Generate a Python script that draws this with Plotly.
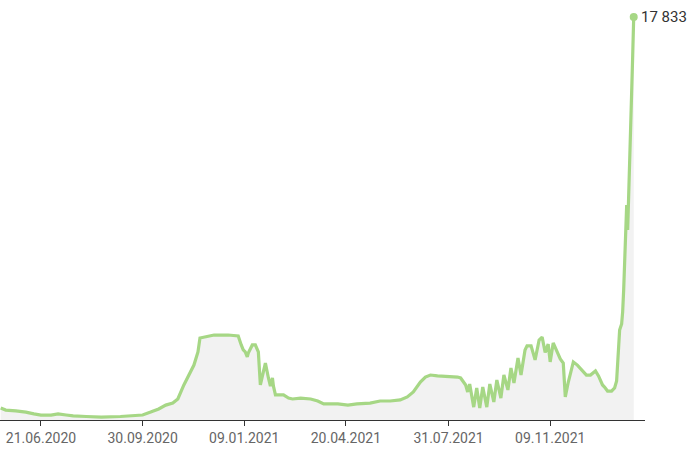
import plotly.graph_objects as go

dates = [
    "2020-05-12", "2020-05-17", "2020-05-27", "2020-06-06", "2020-06-14", "2020-06-21",
    "2020-07-01", "2020-07-08", "2020-07-16", "2020-07-23", "2020-08-05", "2020-08-20",
    "2020-09-08", "2020-09-23", "2020-09-30", "2020-10-08", "2020-10-16", "2020-10-23",
    "2020-10-30", "2020-11-04", "2020-11-10", "2020-11-20", "2020-11-24", "2020-11-26",
    "2020-11-30", "2020-12-10", "2020-12-24", "2021-01-03", "2021-01-06", "2021-01-08",
    "2021-01-10", "2021-01-12", "2021-01-13", "2021-01-17", "2021-01-20", "2021-01-23",
    "2021-01-25", "2021-01-28", "2021-01-30", "2021-02-02", "2021-02-04", "2021-02-06",
    "2021-02-07", "2021-02-09", "2021-02-17", "2021-02-22", "2021-02-26", "2021-03-06",
    "2021-03-16", "2021-03-23", "2021-03-29", "2021-04-12", "2021-04-22", "2021-05-01",
    "2021-05-14", "2021-05-24", "2021-06-03", "2021-06-13", "2021-06-20", "2021-06-26",
    "2021-07-03", "2021-07-08", "2021-07-13", "2021-07-20", "2021-08-02", "2021-08-09",
    "2021-08-12", "2021-08-15", "2021-08-17", "2021-08-19", "2021-08-21", "2021-08-25",
    "2021-08-28", "2021-08-31", "2021-09-03", "2021-09-07", "2021-09-10", "2021-09-14",
    "2021-09-17", "2021-09-21", "2021-09-24", "2021-09-28", "2021-10-01", "2021-10-04",
    "2021-10-08", "2021-10-11", "2021-10-15", "2021-10-17", "2021-10-21", "2021-10-25",
    "2021-10-29", "2021-11-01", "2021-11-04", "2021-11-07", "2021-11-09", "2021-11-12",
    "2021-11-16", "2021-11-19", "2021-11-22", "2021-11-24", "2021-11-27", "2021-12-02",
    "2021-12-06", "2021-12-11", "2021-12-15", "2021-12-19", "2021-12-24", "2021-12-27",
    "2021-12-31", "2022-01-02", "2022-01-05", "2022-01-09", "2022-01-12", "2022-01-14",
    "2022-01-15", "2022-01-16", "2022-01-17", "2022-01-19", "2022-01-20", "2022-01-21",
    "2022-01-22", "2022-01-23", "2022-01-24", "2022-01-25", "2022-01-26", "2022-01-27",
    "2022-01-28", "2022-01-29", "2022-01-30", "2022-01-31",
]

values = [
    530, 440, 400, 350, 270, 220,
    220, 270, 220, 180, 155, 130,
    155, 180, 220, 350, 490, 660,
    750, 930, 1550, 2430, 3010, 3630,
    3670, 3760, 3760, 3720, 3320, 3100,
    3010, 2790, 2960, 3320, 3320, 3010,
    1550, 2120, 2520, 1860, 1500, 1860,
    1500, 1110, 1110, 970, 930, 970,
    930, 840, 710, 710, 660, 710,
    750, 840, 840, 890, 1020, 1240,
    1680, 1900, 1990, 1950, 1930, 1900,
    1860, 1680, 1550, 1240, 1590, 570,
    1420, 530, 1460, 570, 1590, 800,
    1770, 970, 1990, 1330, 2300, 1640,
    2740, 1990, 3100, 3280, 3280, 2660,
    3540, 3670, 2990, 3360, 2570, 3410,
    2990, 2700, 2520, 1020, 1680, 2570,
    2430, 2170, 1990, 1990, 2170, 1950,
    1550, 1460, 1280, 1280, 1420, 1730,
    2520, 3320, 3980, 4250, 4780, 5750,
    6990, 8190, 9510, 8410, 9740, 11500,
    13050, 14600, 16150, 17833,
]

tick_dates = ["2020-06-21", "2020-09-30", "2021-01-09", "2021-04-20", "2021-07-31", "2021-11-09"]
tick_labels = ["21.06.2020", "30.09.2020", "09.01.2021", "20.04.2021", "31.07.2021", "09.11.2021"]

line_color = "#a6d785"

fig = go.Figure()
fig.add_trace(go.Scatter(
    x=dates, y=values, mode="lines",
    line=dict(color=line_color, width=3.2),
    fill="tozeroy", fillcolor="#f2f2f2",
    hoverinfo="skip",
))
fig.add_trace(go.Scatter(
    x=[dates[-1]], y=[values[-1]], mode="markers",
    marker=dict(color=line_color, size=8),
    cliponaxis=False, hoverinfo="skip",
))
fig.add_annotation(
    x=dates[-1], y=values[-1], text=f"{values[-1]:,}".replace(",", " "),
    showarrow=False, xanchor="left", yanchor="middle", xshift=5,
    font=dict(family="Roboto", size=15, color="#333333"),
)

fig.update_layout(
    width=700, height=467,
    margin=dict(l=0, r=55, t=10, b=47),
    paper_bgcolor="white", plot_bgcolor="white",
    showlegend=False,
    font=dict(family="Roboto", size=14, color="#666666"),
    xaxis=dict(
        type="date",
        range=["2020-05-11 07:00", "2022-02-11 05:00"],
        tickvals=tick_dates, ticktext=tick_labels,
        showgrid=False, zeroline=False,
        showline=True, linecolor="#333333", linewidth=1,
        ticks="outside", ticklen=5, tickcolor="#333333",
        tickfont=dict(family="Roboto", size=14, color="#666666"),
    ),
    yaxis=dict(
        range=[0, 18143], visible=False, showgrid=False, zeroline=False,
    ),
)

fig.write_html("out.html", config={"displayModeBar": False},
               post_script="document.body.style.margin='0';")
